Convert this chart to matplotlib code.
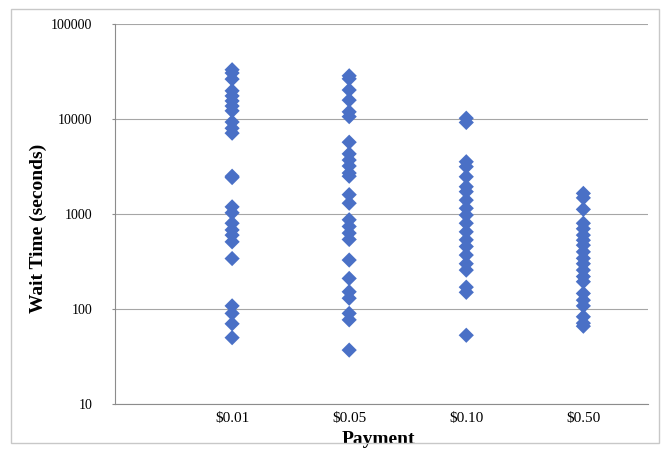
import numpy as np
import matplotlib.pyplot as plt
from matplotlib.patches import Rectangle
from matplotlib.ticker import FixedLocator, NullLocator


plt.rcParams['font.family'] = ['Liberation Serif', 'DejaVu Serif']


payments = ['$0.01', '$0.05', '$0.10', '$0.50']

wait_001 = [33000, 30500, 26300, 19800, 17500, 15500, 13700, 12200, 9300, 8000, 7100,
            2500, 2420, 1190, 1030, 800, 680, 600, 510, 340, 108, 90, 70, 50]
wait_005 = [28500, 26500, 20200, 15800, 11900, 10600, 5700, 4300, 3700, 3200, 2700, 2500,
            1600, 1300, 870, 740, 630, 540, 328, 210, 152, 130, 90, 77, 37]
wait_010 = [10200, 9200, 3550, 3150, 2470, 1940, 1720, 1400, 1150, 975, 800, 650, 535,
            455, 370, 300, 257, 170, 150, 53]
wait_050 = [1650, 1480, 1120, 800, 700, 600, 530, 470, 400, 342, 300, 257, 220, 194,
            146, 124, 108, 83, 71, 66]

groups = [wait_001, wait_005, wait_010, wait_050]


fig = plt.figure(figsize=(6.63, 4.53), dpi=100)
ax = fig.add_axes([0.1735, 0.108, 0.8035, 0.839])

for i, vals in enumerate(groups):
    ax.scatter(np.full(len(vals), i + 1), vals, marker='D', s=60,
               color='#4A70C6', edgecolors='none', zorder=3)

ax.set_yscale('log')
ax.set_ylim(10, 100000)
ax.yaxis.set_major_locator(FixedLocator([10, 100, 1000, 10000, 100000]))
ax.yaxis.set_minor_locator(NullLocator())
ax.set_yticklabels(['10', '100', '1000', '10000', '100000'])

ax.set_xlim(0, 4.55)
ax.set_xticks([1, 2, 3, 4])
ax.set_xticklabels(payments)

ax.grid(axis='y', color='#A6A6A6', linewidth=0.8)
ax.set_axisbelow(True)

for side in ['top', 'right']:
    ax.spines[side].set_visible(False)
for side in ['left', 'bottom']:
    ax.spines[side].set_color('#8C8C8C')
    ax.spines[side].set_linewidth(0.8)

ax.tick_params(axis='y', length=2.5, color='#8C8C8C', labelsize=10, pad=14)
ax.tick_params(axis='x', length=0, labelsize=11, pad=6)

ax.set_ylabel('Wait Time (seconds)', fontsize=14, fontweight='bold')
ax.yaxis.set_label_coords(-0.128, 0.463)
ax.set_xlabel('Payment', fontsize=14, fontweight='bold')
ax.xaxis.set_label_coords(0.495, -0.072)

# outer chart frame
fig.patches.append(Rectangle((11 / 663, 1 - 443 / 453), 648 / 663, 434 / 453,
                             transform=fig.transFigure, fill=False,
                             edgecolor='#C8C8C8', linewidth=1))

fig.savefig('out.png', dpi=100)
